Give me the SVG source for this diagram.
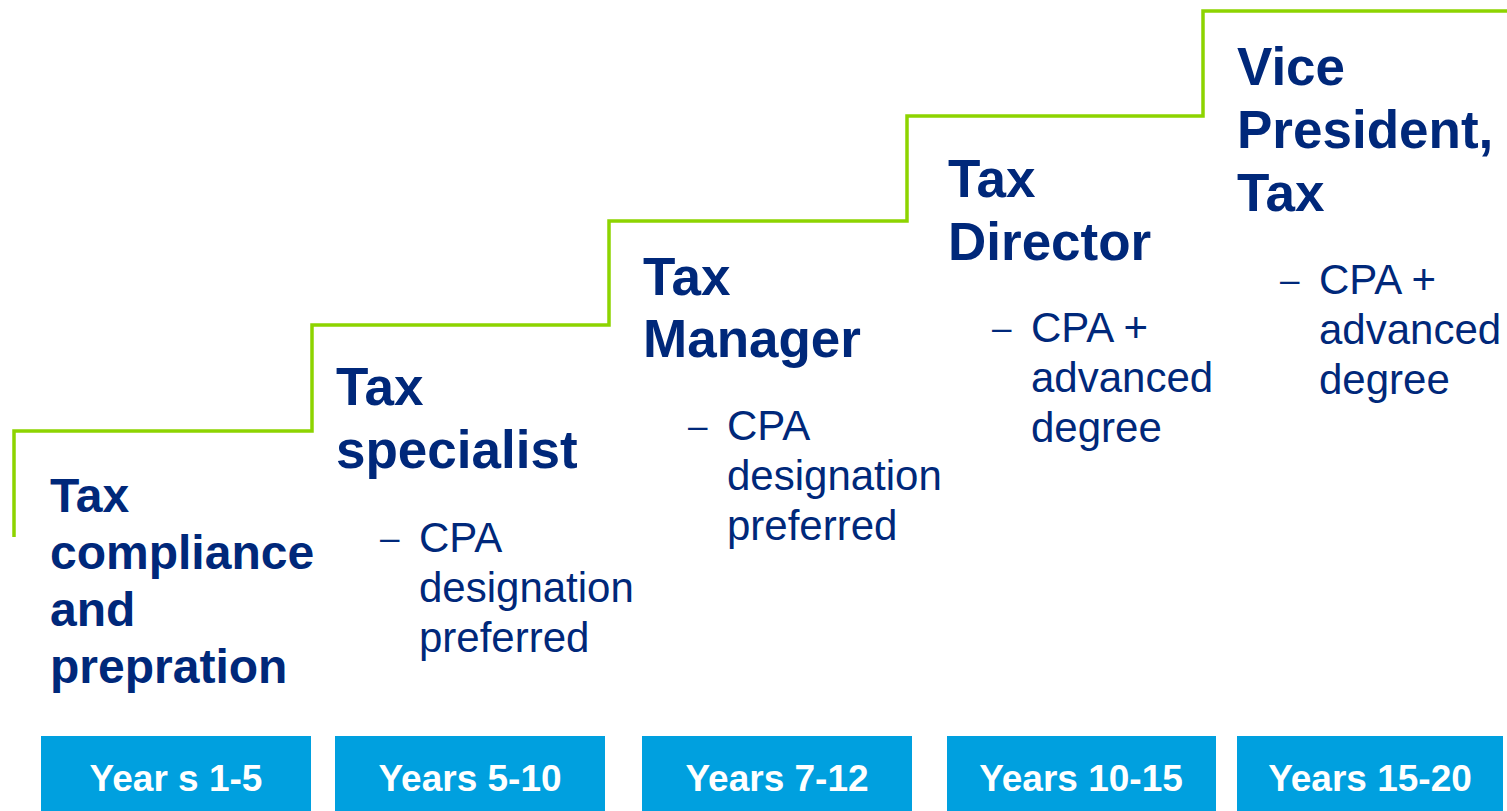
<svg xmlns="http://www.w3.org/2000/svg" width="1507" height="811" viewBox="0 0 1507 811">
<style>
.h{font-family:"Liberation Sans",Arial,sans-serif;font-weight:bold;fill:#00287A;font-size:53px}
.h1{font-size:48px}
.b{font-family:"Liberation Sans",Arial,sans-serif;fill:#00287A;font-size:42px}
.d{font-size:35px}
.box{fill:#00A0DF}
.yr{font-family:"Liberation Sans",Arial,sans-serif;font-weight:bold;fill:#FFFFFF;font-size:37px;text-anchor:middle}
.step{fill:none;stroke:#8DD400;stroke-width:3.5;stroke-linejoin:miter}
</style>
<rect width="1507" height="811" fill="#FFFFFF"/>
<g id="connectors">
<path class="step" d="M14 537 V431 H312 V325 H609 V221 H907 V116 H1203 V11 H1507"/>
</g>
<g id="node1">
<text class="h h1" x="50"><tspan x="50" y="512">Tax</tspan><tspan x="50" y="569">compliance</tspan><tspan x="50" y="626">and</tspan><tspan x="50" y="683">prepration</tspan></text>
<rect class="box" x="41" y="736" width="270" height="75"/>
<text class="yr" x="176" y="791">Year s 1-5</text>
</g>
<g id="node2">
<text class="h" x="336"><tspan x="336" y="405">Tax</tspan><tspan x="336" y="468">specialist</tspan></text>
<text class="b"><tspan class="d" x="380" y="550">–</tspan><tspan x="419" y="552">CPA</tspan><tspan x="419" y="602">designation</tspan><tspan x="419" y="652">preferred</tspan></text>
<rect class="box" x="335" y="736" width="270" height="75"/>
<text class="yr" x="470" y="791">Years 5-10</text>
</g>
<g id="node3">
<text class="h"><tspan x="643" y="295">Tax</tspan><tspan x="643" y="357">Manager</tspan></text>
<text class="b"><tspan class="d" x="688" y="438">–</tspan><tspan x="727" y="440">CPA</tspan><tspan x="727" y="490">designation</tspan><tspan x="727" y="540">preferred</tspan></text>
<rect class="box" x="642" y="736" width="270" height="75"/>
<text class="yr" x="777" y="791">Years 7-12</text>
</g>
<g id="node4">
<text class="h"><tspan x="948" y="197">Tax</tspan><tspan x="948" y="260">Director</tspan></text>
<text class="b"><tspan class="d" x="992" y="340">–</tspan><tspan x="1031" y="342">CPA +</tspan><tspan x="1031" y="392">advanced</tspan><tspan x="1031" y="442">degree</tspan></text>
<rect class="box" x="947" y="736" width="269" height="75"/>
<text class="yr" x="1081" y="791">Years 10-15</text>
</g>
<g id="node5">
<text class="h"><tspan x="1237" y="85">Vice</tspan><tspan x="1237" y="148">President,</tspan><tspan x="1237" y="211">Tax</tspan></text>
<text class="b"><tspan class="d" x="1280" y="292">–</tspan><tspan x="1319" y="294">CPA +</tspan><tspan x="1319" y="344">advanced</tspan><tspan x="1319" y="394">degree</tspan></text>
<rect class="box" x="1237" y="736" width="266" height="75"/>
<text class="yr" x="1370" y="791">Years 15-20</text>
</g>
</svg>
